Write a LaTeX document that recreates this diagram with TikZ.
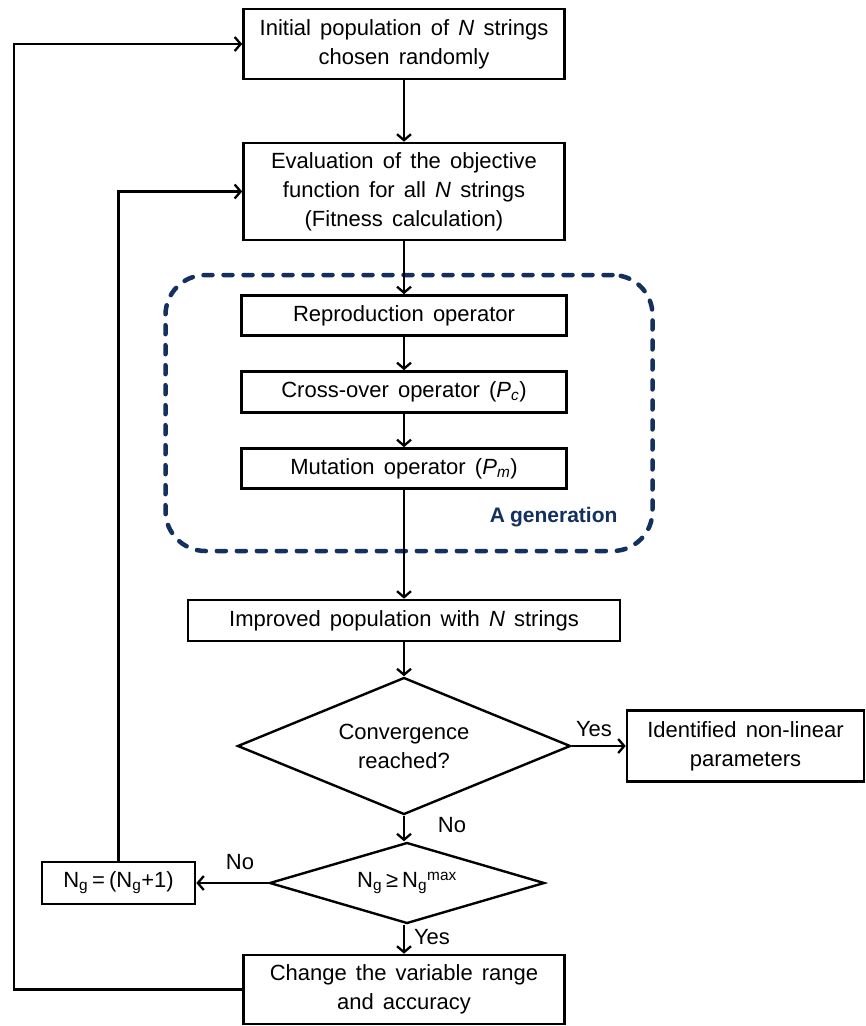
\documentclass[tikz,border=0pt]{standalone}
\usepackage{fontspec}
\setmainfont[WordSpace=1.5]{Liberation Sans}
\usetikzlibrary{arrows.meta,shapes.geometric}
\definecolor{navy}{RGB}{20,48,94}

\begin{document}
\begin{tikzpicture}[x=1pt,y=-1pt,
  txt/.style={font=\fontsize{22}{29}\selectfont},
  box/.style={txt,draw,line width=2.6pt,inner sep=0pt,align=center},
  decision/.style={txt,draw,diamond,line width=2.4pt,inner sep=0pt,align=center},
  arr/.style={line width=2.3pt,-{Straight Barb[length=6pt,width=14pt]}},
  link/.style={line width=2.3pt}]

\useasboundingbox[fill=white] (0,0) rectangle (866,1026);

% main chain
\node[box,minimum width=321,minimum height=70] (init) at (404,44)
  {Initial population of \textit{N} strings\\chosen randomly};
\node[box,minimum width=321,minimum height=97] (eval) at (404,191.5)
  {Evaluation of the objective\\function for all \textit{N} strings\\(Fitness calculation)};

% one generation of the genetic operators
\node[draw=navy,line width=4.5pt,dash pattern=on 9pt off 11pt,line cap=round,
      rounded corners=40,minimum width=487,minimum height=276] (gen) at (409,413) {};
\node[box,minimum width=325,minimum height=40] (repr) at (404,315.5) {Reproduction operator};
\node[box,minimum width=325,minimum height=41] (cross) at (404,392)
  {Cross-over operator (\textit{P}\textsubscript{\textit{c}})};
\node[box,minimum width=325,minimum height=40] (mut) at (404,468.5)
  {Mutation operator (\textit{P}\textsubscript{\textit{m}})};
\node[text=navy,font=\fontsize{21}{28}\selectfont\bfseries,anchor=east] (genlabel) at (621,517)
  {A\hspace{5pt}generation};

\node[box,minimum width=432,minimum height=41] (impr) at (404,620.5)
  {Improved population with \textit{N} strings};

% decisions
\node[decision,shape aspect=2.43,minimum width=333,minimum height=137] (conv) at (404,746)
  {Convergence\\reached?};
\node[box,minimum width=237,minimum height=71] (ident) at (745.5,746)
  {Identified non-linear\\parameters};
\node[decision,shape aspect=3.4,minimum width=275,minimum height=81] (ngmax) at (407,883)
  {N\textsubscript{g}\hspace{4pt}≥\hspace{4pt}N\textsubscript{g}\textsuperscript{max}};
\node[box,minimum width=153,minimum height=42] (inc) at (118.5,883)
  {N\textsubscript{g}\hspace{4pt}=\hspace{4pt}(N\textsubscript{g}+1)};
\node[box,minimum width=321,minimum height=69] (change) at (404,989.5)
  {Change the variable range\\and accuracy};

% branch labels
\node[txt] (yes1) at (594,729) {Yes};
\node[txt] (no1) at (452,825) {No};
\node[txt] (no2) at (240,862) {No};
\node[txt] (yes2) at (432,937) {Yes};

% connectors
\draw[arr] (init) -- (eval);
\draw[arr] (eval) -- (repr);
\draw[arr] (repr) -- (cross);
\draw[arr] (cross) -- (mut);
\draw[arr] (mut) -- (impr);
\draw[arr] (impr) -- (conv);
\draw[arr] (conv.east) -- (ident.west);
\draw[arr] (conv.south) -- (conv.south |- ngmax.north);
\draw[arr] (ngmax.west) -- (inc.east);
\draw[arr] (ngmax.south -| change.north) -- (change.north);
\draw[arr] (inc.north) |- (eval.west);
\coordinate (outer) at (14,0);
\draw[arr] (change.west) -- (change.west -| outer) -- (init.west -| outer) -- (init.west);
\end{tikzpicture}
\end{document}
